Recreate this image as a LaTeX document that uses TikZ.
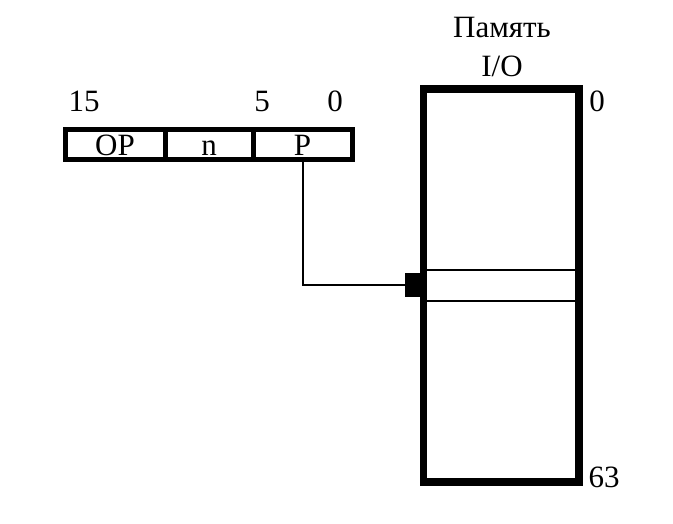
\documentclass[tikz,border=0pt]{standalone}
\usepackage{fontspec}
\setmainfont{Liberation Serif}
\usetikzlibrary{arrows.meta}
\usetikzlibrary{positioning}

\begin{document}
\begin{tikzpicture}[x=1pt,y=-1pt,
  every node/.style={font=\fontsize{31}{34}\selectfont},
  cell/.style={draw,line width=5pt,minimum height=30pt,inner sep=0pt,text height=21pt,text depth=0pt},
  bitno/.style={anchor=base}]
\useasboundingbox (0,0) rectangle (673,524);

% instruction word
\node[cell,minimum width=100pt] (OP) at (115,145) {OP};
\node[cell,minimum width=88pt] (n) at (209,145) {n};
\node[cell,minimum width=99pt] (P) at (302.5,145) {P};

\node[bitno] (b15) at (84,112) {15};
\node[bitno] (b5) at (262,112) {5};
\node[bitno] (b0) at (335,112) {0};

% I/O memory
\node[draw,line width=5pt,minimum width=153pt,minimum height=390pt,inner sep=0pt] (mem) at (501,285.5) {};
\node[draw,line width=2.5pt,minimum width=153pt,minimum height=31pt,inner sep=0pt] (slot) at (501,285.5) {};
\draw[line width=5pt] (mem.north west) rectangle (mem.south east);

\node[anchor=base] (title) at (502,38) {Память};
\node[anchor=base] (io) at (502,77) {I/O};
\node[bitno] (a0) at (597,112) {0};
\node[bitno] (a63) at (604,487) {63};

\coordinate (bend) at (P.south |- slot.west);
\draw[line width=2pt,-{Rectangle[length=18pt,width=24pt]}] (P.south) -- (bend) -- (slot.west);

\end{tikzpicture}
\end{document}
